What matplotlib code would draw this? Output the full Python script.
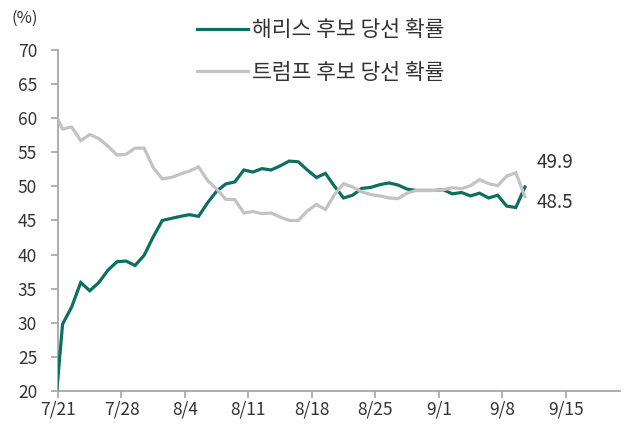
import numpy as np
import pandas as pd
import matplotlib
matplotlib.use("Agg")
import matplotlib.pyplot as plt

plt.rcParams['font.family'] = ['Noto Sans CJK KR', 'DejaVu Sans']

# 일별 데이터 (7/20 ~ 9/10)
dates = pd.date_range('2024-07-20', '2024-09-10', freq='D')
harris = [14.4, 29.8, 32.3, 35.9, 34.7, 35.9, 37.7, 38.95, 39.05, 38.4, 39.9,
          42.6, 45.0, 45.3, 45.6, 45.85, 45.6, 47.6, 49.3, 50.35, 50.65,
          52.4, 52.1, 52.6, 52.4, 53.0, 53.7, 53.6, 52.4, 51.3, 51.9,
          50.0, 48.3, 48.7, 49.7, 49.85, 50.25, 50.5, 50.2, 49.6, 49.4,
          49.4, 49.4, 49.5, 48.9, 49.1, 48.6, 49.0, 48.3, 48.7, 47.1,
          46.9, 49.9]
trump = [61.2, 58.4, 58.7, 56.7, 57.6, 57.0, 55.9, 54.6, 54.7, 55.6, 55.6,
         52.75, 51.1, 51.3, 51.8, 52.25, 52.85, 50.85, 49.6, 48.1, 48.05,
         46.1, 46.3, 46.0, 46.1, 45.5, 45.0, 45.0, 46.4, 47.35, 46.6,
         48.8, 50.4, 49.9, 49.2, 48.8, 48.6, 48.3, 48.2, 49.0, 49.4,
         49.4, 49.4, 49.5, 49.8, 49.65, 50.1, 51.0, 50.4, 50.1, 51.5,
         52.0, 48.5]
tick_labels = ['7/21', '7/28', '8/4', '8/11', '8/18', '8/25', '9/1', '9/8', '9/15']

GREEN = '#0b6f62'
GRAY = '#c3c3c3'
AXIS = '#a6a6a6'
TXT = '#333333'

start = pd.Timestamp('2024-07-21')
# 엑셀처럼 눈금 사이에 점 배치 (+0.5일)
x = (dates - start).days.values + 0.5

fig = plt.figure(figsize=(6.28, 4.28), dpi=100)
ax = fig.add_axes([0.0924, 0.0864, 0.895, 0.797])

ax.plot(x, harris, color=GREEN, lw=2.3, label='해리스 후보 당선 확률', zorder=3,
        solid_joinstyle='miter')
ax.plot(x, trump, color=GRAY, lw=2.3, label='트럼프 후보 당선 확률', zorder=4,
        solid_joinstyle='miter')

ax.set_xlim(0, 62)
ax.set_ylim(20, 70)
ax.set_yticks(np.arange(20, 71, 5))
ax.set_xticks(np.arange(len(tick_labels)) * 7)
ax.set_xticklabels(tick_labels)

for s in ['top', 'right']:
    ax.spines[s].set_visible(False)
for s in ['left', 'bottom']:
    ax.spines[s].set_color(AXIS)
    ax.spines[s].set_linewidth(1.3)
ax.tick_params(axis='y', length=5, width=1.2, color=AXIS, pad=10,
               labelsize=12.5, labelcolor=TXT)
ax.tick_params(axis='x', length=5, width=1.2, color=AXIS, pad=2,
               labelsize=12.5, labelcolor=TXT)

# 마지막 값 라벨
ax.text(x[-1] + 1.3, harris[-1] + 3.6, f'{harris[-1]:.1f}', fontsize=13.5,
        color=TXT, ha='left', va='center')
ax.text(x[-1] + 1.3, trump[-1] - 0.8, f'{trump[-1]:.1f}', fontsize=13.5,
        color=TXT, ha='left', va='center')

fig.text(0.018, 0.958, '(%)', fontsize=12, color=TXT, ha='left', va='center')

leg = fig.legend(loc='upper left', bbox_to_anchor=(0.283, 1.0), frameon=False,
                 fontsize=15.5, handlelength=2.35, handletextpad=0.18,
                 labelspacing=0.95)
for t in leg.get_texts():
    t.set_color(TXT)

fig.savefig('out.png', dpi=100)
